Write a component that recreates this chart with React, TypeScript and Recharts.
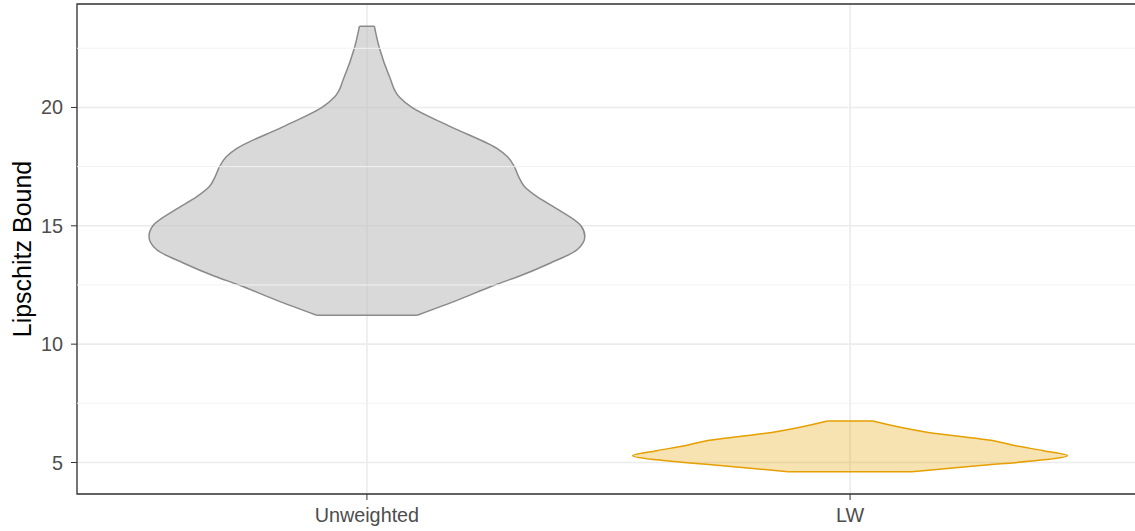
import { ComposedChart, Area, XAxis, YAxis, CartesianGrid, ReferenceLine, ReferenceArea } from 'recharts';

const categories = ['Unweighted', 'LW'];
const yTicks = [5, 10, 15, 20];
const yMinorTicks = [7.5, 12.5, 17.5, 22.5];

// violin outlines: bound value and half width (in category units)
const unweightedBound = [11.22, 11.88, 12.5, 12.87, 13.43, 13.99, 14.55, 15.0, 15.67, 16.23, 16.66, 17.08, 17.5, 17.92, 18.27, 19.18, 20.0, 20.44, 21.29, 22.5, 23.43];
const unweightedHalfWidth = [0.104, 0.19, 0.265, 0.315, 0.38, 0.435, 0.451, 0.443, 0.397, 0.352, 0.326, 0.314, 0.305, 0.291, 0.269, 0.174, 0.093, 0.067, 0.047, 0.026, 0.0155];

const lwBound = [4.61, 4.87, 5.08, 5.29, 5.5, 5.71, 5.92, 6.27, 6.75];
const lwHalfWidth = [0.128, 0.269, 0.386, 0.45, 0.4, 0.342, 0.297, 0.162, 0.047];

const empty = [null, null];
const rows = [
  ...lwBound.map((y, i) => ({ y, unweighted: empty, lw: [2 - lwHalfWidth[i], 2 + lwHalfWidth[i]] })),
  ...unweightedBound.map((y, i) => ({ y, unweighted: [1 - unweightedHalfWidth[i], 1 + unweightedHalfWidth[i]], lw: empty })),
];

const allBounds = [...lwBound, ...unweightedBound];
const lo = Math.min(...allBounds);
const hi = Math.max(...allBounds);
const pad = (hi - lo) * 0.05;
const yDomain = [lo - pad, hi + pad];

const GRAY_FILL = '#BFBFBF';
const GRAY_LINE = '#8A8A8A';
const ORANGE = '#E69F00';

const ends = (bound: number[], half: number[], center: number) => [
  { y: bound[0], w: half[0], c: center },
  { y: bound[bound.length - 1], w: half[half.length - 1], c: center },
];

export default function App() {
  const uEnds = ends(unweightedBound, unweightedHalfWidth, 1);
  const lEnds = ends(lwBound, lwHalfWidth, 2);
  return (
    <div style={{ position: 'absolute', left: 0, top: 0, width: 1135, height: 531, overflow: 'hidden', background: '#fff', fontFamily: '"Liberation Sans", Arial, sans-serif' }}>
      <ComposedChart layout="vertical" width={1150} height={531} data={rows} margin={{ top: 4, right: 10, bottom: 0, left: 0 }}>
        <CartesianGrid stroke="#EBEBEB" strokeWidth={1.6} />
        {yMinorTicks.map((v) => (
          <ReferenceLine key={v} y={v} stroke="#F2F2F2" strokeWidth={1} />
        ))}
        <XAxis
          type="number"
          domain={[0.4, 2.6]}
          allowDataOverflow
          ticks={[1, 2]}
          tickFormatter={(v) => categories[v - 1]}
          height={37}
          tickSize={6}
          tickMargin={8}
          axisLine={false}
          tickLine={{ stroke: '#333333' }}
          tick={{ fill: '#4D4D4D', fontSize: 19.8 }}
        />
        <YAxis
          type="number"
          dataKey="y"
          reversed
          domain={yDomain}
          allowDataOverflow
          ticks={yTicks}
          width={77}
          tickSize={6}
          tickMargin={8}
          axisLine={false}
          tickLine={{ stroke: '#333333' }}
          tick={{ fill: '#4D4D4D', fontSize: 19.8 }}
          label={{ value: 'Lipschitz Bound', angle: -90, position: 'center', dx: -16, fill: '#000000', fontSize: 25 }}
        />
        <Area
          dataKey="unweighted"
          type="monotone"
          stroke={GRAY_LINE}
          strokeWidth={1.5}
          fill={GRAY_FILL}
          fillOpacity={0.6}
          dot={false}
          activeDot={false}
          isAnimationActive={false}
        />
        <Area
          dataKey="lw"
          type="monotone"
          stroke={ORANGE}
          strokeWidth={1.5}
          fill={ORANGE}
          fillOpacity={0.3}
          dot={false}
          activeDot={false}
          isAnimationActive={false}
        />
        {uEnds.map((e, i) => (
          <ReferenceLine key={'u' + i} segment={[{ x: e.c - e.w, y: e.y }, { x: e.c + e.w, y: e.y }]} stroke={GRAY_LINE} strokeWidth={1.5} ifOverflow="visible" />
        ))}
        {lEnds.map((e, i) => (
          <ReferenceLine key={'l' + i} segment={[{ x: e.c - e.w, y: e.y }, { x: e.c + e.w, y: e.y }]} stroke={ORANGE} strokeWidth={1.5} ifOverflow="visible" />
        ))}
        <ReferenceArea x1={0.4} x2={2.6} y1={yDomain[0]} y2={yDomain[1]} fill="none" stroke="#333333" strokeWidth={1.3} ifOverflow="visible" />
      </ComposedChart>
    </div>
  );
}
